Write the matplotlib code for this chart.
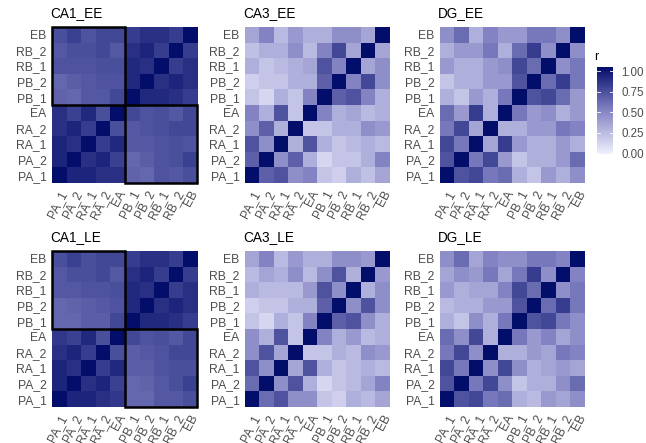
import numpy as np
import matplotlib
matplotlib.use("Agg")
import matplotlib.pyplot as plt
from matplotlib.colors import LinearSegmentedColormap
from matplotlib.patches import Rectangle

plt.rcParams['font.family'] = ['Liberation Sans', 'DejaVu Sans']

labels = ["PA_1", "PA_2", "RA_1", "RA_2", "EA", "PB_1", "PB_2", "RB_1", "RB_2", "EB"]
panel_names = ["CA1_EE", "CA3_EE", "DG_EE", "CA1_LE", "CA3_LE", "DG_LE"]

# lower triangle, row i holds r with columns 0..i-1 (row 0 = PA_1)
ca1_ee = [
    [],
    [0.90],
    [0.90, 0.85],
    [0.85, 0.90, 0.80],
    [0.85, 0.78, 0.88, 0.72],
    [0.64, 0.62, 0.68, 0.68, 0.75],
    [0.62, 0.66, 0.68, 0.70, 0.70, 0.88],
    [0.70, 0.70, 0.70, 0.72, 0.72, 0.88, 0.85],
    [0.68, 0.72, 0.72, 0.75, 0.68, 0.85, 0.90, 0.80],
    [0.72, 0.78, 0.70, 0.75, 0.75, 0.80, 0.85, 0.85, 0.80],
]
ca3_ee = [
    [],
    [0.65],
    [0.70, 0.45],
    [0.45, 0.65, 0.30],
    [0.50, 0.30, 0.70, 0.20],
    [0.20, 0.12, 0.30, 0.20, 0.50],
    [0.15, 0.20, 0.20, 0.30, 0.30, 0.65],
    [0.30, 0.20, 0.25, 0.30, 0.35, 0.70, 0.50],
    [0.22, 0.30, 0.30, 0.45, 0.25, 0.50, 0.75, 0.35],
    [0.35, 0.50, 0.25, 0.40, 0.30, 0.30, 0.45, 0.45, 0.35],
]
dg_ee = [
    [],
    [0.70],
    [0.75, 0.55],
    [0.55, 0.75, 0.35],
    [0.60, 0.40, 0.80, 0.30],
    [0.30, 0.20, 0.40, 0.30, 0.55],
    [0.20, 0.30, 0.30, 0.40, 0.40, 0.70],
    [0.40, 0.30, 0.30, 0.40, 0.45, 0.75, 0.60],
    [0.30, 0.40, 0.40, 0.55, 0.30, 0.60, 0.80, 0.45],
    [0.45, 0.60, 0.30, 0.50, 0.40, 0.40, 0.55, 0.55, 0.45],
]
ca1_le = [
    [],
    [0.90],
    [0.90, 0.85],
    [0.85, 0.90, 0.80],
    [0.82, 0.78, 0.88, 0.72],
    [0.62, 0.62, 0.66, 0.66, 0.75],
    [0.62, 0.64, 0.66, 0.68, 0.70, 0.88],
    [0.68, 0.68, 0.70, 0.70, 0.72, 0.88, 0.85],
    [0.68, 0.72, 0.72, 0.75, 0.68, 0.85, 0.90, 0.80],
    [0.72, 0.78, 0.72, 0.75, 0.75, 0.80, 0.85, 0.85, 0.80],
]
ca3_le = [
    [],
    [0.60],
    [0.70, 0.45],
    [0.45, 0.70, 0.35],
    [0.45, 0.30, 0.70, 0.20],
    [0.20, 0.12, 0.30, 0.20, 0.50],
    [0.15, 0.20, 0.20, 0.30, 0.30, 0.65],
    [0.30, 0.25, 0.25, 0.25, 0.40, 0.70, 0.45],
    [0.25, 0.35, 0.30, 0.45, 0.25, 0.45, 0.70, 0.30],
    [0.35, 0.50, 0.25, 0.40, 0.30, 0.30, 0.45, 0.45, 0.40],
]
dg_le = [
    [],
    [0.70],
    [0.75, 0.55],
    [0.55, 0.75, 0.45],
    [0.60, 0.45, 0.75, 0.30],
    [0.30, 0.20, 0.45, 0.30, 0.55],
    [0.25, 0.30, 0.30, 0.40, 0.40, 0.70],
    [0.40, 0.30, 0.35, 0.35, 0.50, 0.75, 0.60],
    [0.35, 0.45, 0.40, 0.55, 0.35, 0.55, 0.80, 0.45],
    [0.45, 0.60, 0.35, 0.50, 0.45, 0.45, 0.55, 0.55, 0.50],
]
panels = [ca1_ee, ca3_ee, dg_ee, ca1_le, ca3_le, dg_le]


def full_matrix(tri):
    n = len(tri)
    m = np.eye(n)
    for i, row in enumerate(tri):
        for j, v in enumerate(row):
            m[i, j] = v
            m[j, i] = v
    return m


cmap = LinearSegmentedColormap.from_list(
    "r", [(0, "#F0F0FF"), (0.5, "#8484C4"), (1, "#030D6A")])

fig = plt.figure(figsize=(6.46, 4.43), dpi=100)
W, H = 646, 443
lefts = [52, 245, 440]
tops = [27, 251]
pw, ph = 145, 156
grey = "#4D4D4D"

for k, (name, tri) in enumerate(zip(panel_names, panels)):
    r, c = divmod(k, 3)
    ax = fig.add_axes([lefts[c] / W, (H - tops[r] - ph) / H, pw / W, ph / H])
    ax.imshow(full_matrix(tri), cmap=cmap, vmin=0, vmax=1, origin="lower",
              aspect="auto", interpolation="nearest")
    ax.set_xticks(range(10))
    ax.set_yticks(range(10))
    ax.set_xticklabels(labels, rotation=62, ha="right", rotation_mode="anchor")
    ax.set_yticklabels(labels)
    ax.tick_params(length=0, labelsize=8.7, labelcolor=grey, pad=4)
    for sp in ax.spines.values():
        sp.set_visible(False)
    ax.set_title(name, loc="left", fontsize=9.8, pad=7, x=-0.015)
    if name.startswith("CA1"):
        for x0, y0 in [(-0.5, 4.5), (4.5, -0.5)]:
            ax.add_patch(Rectangle((x0, y0), 5, 5, fill=False, lw=1.8,
                                   ec="black", clip_on=False))

# colour bar
cax = fig.add_axes([597 / W, (H - 154) / H, 16 / W, 87 / H])
cax.imshow(np.linspace(0, 1, 300)[:, None], cmap=cmap, vmin=0, vmax=1,
           origin="lower", aspect="auto", extent=[0, 1, -0.01, 1.05])
cax.set_xlim(0, 1)
cax.set_ylim(-0.01, 1.05)
cax.set_xticks([])
cbar_ticks = [0.0, 0.25, 0.5, 0.75, 1.0]
cax.set_yticks(cbar_ticks)
cax.set_yticklabels([f"{v:.2f}" for v in cbar_ticks])
cax.yaxis.tick_right()
cax.tick_params(length=0, labelsize=8.3, labelcolor=grey, pad=6)
for v in cbar_ticks:
    cax.plot([0, 0.2], [v, v], color="white", lw=0.6)
    cax.plot([0.8, 1], [v, v], color="white", lw=0.6)
for sp in cax.spines.values():
    sp.set_visible(False)
fig.text(594 / W, (H - 57) / H, "r", fontsize=9, va="center")

fig.savefig("out.png", dpi=100)
